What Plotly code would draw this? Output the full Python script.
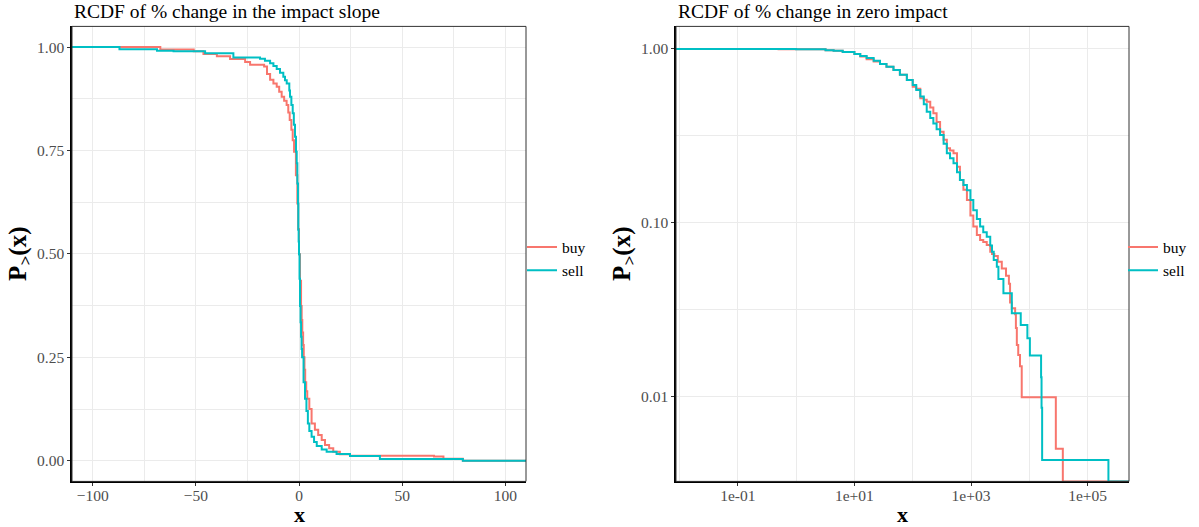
import plotly.graph_objects as go

W, H = 1199, 527
BUY = "#F8766D"
SELL = "#00BFC4"
FONT = "Liberation Serif"

# ---------------- data: left panel (% change in the impact slope) ----------------
slope_buy_x = [-150, -67.2, -51, -46.3, -39.8, -33.4, -26.1, -23.7, -16.9, -15.5, -14.0, -12.4, -10.8, -9.6, -8.4,
               -7.2, -6.0, -5.2, -4.5, -3.7, -3.05, -2.4, -1.5, -0.8, -0.4, 0.0, 0.5, 1.0, 1.3, 1.6, 2.0, 2.3,
               2.65, 3.0, 3.5, 4.0, 5.0, 6.1, 7.7, 9.3, 11.0, 12.6, 14.6, 16.6, 19.8, 24.7, 65.4, 70, 79.4, 150]
slope_buy_p = [1.0, 0.994, 0.990, 0.983, 0.978, 0.971, 0.964, 0.957, 0.953, 0.935, 0.921, 0.912, 0.904, 0.892, 0.880,
               0.870, 0.860, 0.842, 0.824, 0.800, 0.775, 0.747, 0.690, 0.622, 0.560, 0.499, 0.435, 0.374, 0.340, 0.310, 0.280, 0.250,
               0.220, 0.190, 0.168, 0.150, 0.125, 0.090, 0.075, 0.062, 0.050, 0.038, 0.030, 0.0218, 0.0155, 0.012, 0.0099, 0.005, 0.0, 0.0]

slope_sell_x = [-150, -87, -68.8, -60.8, -45.5, -31.8, -18.9, -16.5, -14.0, -12.4, -10.8, -9.2, -7.6, -6.8, -5.95, -4.7,
                -4.35, -3.7, -3.05, -2.5, -1.94, -1.45, -1.11, -0.8, -0.5, -0.34, -0.17, 0.0, 0.25, 0.5, 0.75, 1.0,
                1.25, 1.5, 2.2, 2.9, 3.6, 4.3, 5.0, 6.1, 7.3, 8.6, 11.0, 13.4, 18.2, 24.7, 39.2, 79.4, 150]
slope_sell_p = [1.0, 0.995, 0.991, 0.990, 0.985, 0.975, 0.972, 0.967, 0.961, 0.954, 0.947, 0.938, 0.928, 0.920, 0.912, 0.895,
                0.880, 0.860, 0.840, 0.812, 0.783, 0.747, 0.719, 0.670, 0.622, 0.558, 0.530, 0.499, 0.440, 0.374, 0.335, 0.300,
                0.270, 0.250, 0.190, 0.150, 0.120, 0.090, 0.072, 0.058, 0.045, 0.0355, 0.027, 0.0218, 0.016, 0.0114, 0.0043, 0.0, 0.0]

# ---------------- data: right panel (% change in zero impact) ----------------
zero_buy_x = [0.001, 0.018, 0.5, 1.0, 3.2, 4.4, 6.3, 10, 12.6, 16.2, 21.4, 27.5, 35.5, 46.8, 60.3,
              79.4, 100, 115, 135, 155, 174, 200, 226, 257, 295, 339, 385, 437, 501, 575, 646,
              741, 851, 977, 1096, 1259, 1432, 1622, 1862, 2138, 2291, 2512, 2884, 3373, 3981,
              4467, 4677, 5012, 5715, 5888, 6109, 6457, 6918, 7413, 28510, 37580, 1e7]
zero_buy_p = [1.0, 1.0, 0.998, 0.995, 0.985, 0.978, 0.960, 0.936, 0.905, 0.873, 0.848, 0.820, 0.790, 0.757, 0.710,
              0.663, 0.607, 0.590, 0.520, 0.510, 0.497, 0.460, 0.426, 0.380, 0.334, 0.300, 0.268, 0.260, 0.251, 0.210, 0.176,
              0.155, 0.135, 0.110, 0.095, 0.085, 0.0795, 0.0775, 0.0744, 0.068, 0.066, 0.0643, 0.0597, 0.0545, 0.0495,
              0.0446, 0.0347, 0.0322, 0.0297, 0.0248, 0.0198, 0.0173, 0.0149, 0.0099, 0.0050, 0.0, 0.0]

zero_sell_x = [0.001, 0.018, 1.0, 3.2, 4.4, 6.3, 10, 12.6, 16.2, 21.4, 27.5, 35.5, 46.8, 60.3, 79.4,
               100, 115, 135, 155, 174, 200, 226, 257, 295, 339, 385, 437, 501, 575, 646, 741,
               851, 977, 1096, 1259, 1432, 1622, 1862, 2138, 2291, 2455, 2773, 2951, 3597, 5012,
               7129, 9268, 10230, 15920, 16220, 16600, 227500, 1e7]
zero_sell_p = [1.0, 1.0, 0.996, 0.985, 0.978, 0.962, 0.936, 0.912, 0.887, 0.855, 0.820, 0.790, 0.757, 0.710, 0.663,
               0.621, 0.580, 0.532, 0.480, 0.435, 0.400, 0.373, 0.345, 0.320, 0.285, 0.251, 0.235, 0.220, 0.195, 0.176, 0.165,
               0.154, 0.135, 0.118, 0.105, 0.095, 0.088, 0.083, 0.074, 0.068, 0.061, 0.0558, 0.0474, 0.0392, 0.0301,
               0.0258, 0.0216, 0.0172, 0.0129, 0.0086, 0.0043, 0.0, 0.0]

# tick labels
slope_xticks = [-100, -50, 0, 50, 100]
slope_xlabels = ["\u2212100", "\u221250", "0", "50", "100"]
slope_yticks = [0, 0.25, 0.5, 0.75, 1.0]
slope_ylabels = ["0.00", "0.25", "0.50", "0.75", "1.00"]
zero_xticks = [0.1, 10, 1000, 100000]
zero_xlabels = ["1e-01", "1e+01", "1e+03", "1e+05"]
zero_yticks = [0.01, 0.1, 1.0]
zero_ylabels = ["0.01", "0.10", "1.00"]

# ---------------- layout geometry ----------------
X1 = [72 / W, 526 / W]
X2 = [676 / W, 1129 / W]
YD = [1 - 481.4 / H, 1 - 26.4 / H]
ZERO_YRANGE = [-2.489, 0.130]
LOG_FLOOR = 10 ** ZERO_YRANGE[0]  # where ggplot squishes -Inf (p = 0) on the log scale


def floor0(vals):
    return [v if v > 0 else LOG_FLOOR for v in vals]


fig = go.Figure()
fig.add_trace(go.Scatter(x=slope_buy_x, y=slope_buy_p, mode="lines", name="buy",
                         line=dict(color=BUY, width=2, shape="hv"), xaxis="x", yaxis="y", legend="legend"))
fig.add_trace(go.Scatter(x=slope_sell_x, y=slope_sell_p, mode="lines", name="sell",
                         line=dict(color=SELL, width=2, shape="hv"), xaxis="x", yaxis="y", legend="legend"))
fig.add_trace(go.Scatter(x=zero_buy_x, y=floor0(zero_buy_p), mode="lines", name="buy",
                         line=dict(color=BUY, width=2, shape="hv"), xaxis="x2", yaxis="y2", legend="legend2"))
fig.add_trace(go.Scatter(x=zero_sell_x, y=floor0(zero_sell_p), mode="lines", name="sell",
                         line=dict(color=SELL, width=2, shape="hv"), xaxis="x2", yaxis="y2", legend="legend2"))

tickfont = dict(family=FONT, size=15.5, color="#4D4D4D")
common = dict(showgrid=True, gridcolor="#EBEBEB", gridwidth=1.2, zeroline=False,
              ticks="outside", ticklen=3, tickcolor="#333333", tickwidth=1,
              showline=True, linecolor="black", linewidth=1.5, mirror=False,
              tickfont=tickfont, fixedrange=True)
minor_style = dict(showgrid=True, gridcolor="#EBEBEB", gridwidth=0.6, ticks="")
legfont = dict(family=FONT, size=15.5, color="black")

fig.update_layout(
    width=W, height=H,
    margin=dict(l=0, r=0, t=0, b=0),
    paper_bgcolor="white", plot_bgcolor="white",
    font=dict(family=FONT, color="black"),
    xaxis=dict(domain=X1, anchor="y", range=[-110, 110], tickmode="array",
               tickvals=slope_xticks, ticktext=slope_xlabels, ticklabelstandoff=-4,
               minor=dict(tickmode="array", tickvals=[-75, -25, 25, 75], **minor_style), **common),
    yaxis=dict(domain=YD, anchor="x", range=[-0.05, 1.05], tickmode="array",
               tickvals=slope_yticks, ticktext=slope_ylabels,
               minor=dict(tickmode="array", tickvals=[0.125, 0.375, 0.625, 0.875], **minor_style), **common),
    xaxis2=dict(domain=X2, anchor="y2", type="log", range=[-2.06, 5.71], tickmode="array",
                tickvals=zero_xticks, ticktext=zero_xlabels, ticklabelstandoff=-4,
                minor=dict(tickmode="array", tickvals=[0.01, 1, 100, 10000], **minor_style), **common),
    yaxis2=dict(domain=YD, anchor="x2", type="log", range=ZERO_YRANGE, tickmode="array",
                tickvals=zero_yticks, ticktext=zero_ylabels,
                minor=dict(tickmode="array", tickvals=[0.0316, 0.316], **minor_style), **common),
    legend=dict(x=522 / W, y=1 - 259 / H, xanchor="left", yanchor="middle",
                font=legfont, bgcolor="rgba(0,0,0,0)", tracegroupgap=0, itemwidth=30),
    legend2=dict(x=1123 / W, y=1 - 259 / H, xanchor="left", yanchor="middle",
                 font=legfont, bgcolor="rgba(0,0,0,0)", tracegroupgap=0, itemwidth=30),
    showlegend=True,
)

# panel borders (theme_bw)
for xr, yr in (("x domain", "y domain"), ("x2 domain", "y2 domain")):
    fig.add_shape(type="rect", xref=xr, yref=yr, x0=0, x1=1, y0=0, y1=1,
                  line=dict(color="#333333", width=1), fillcolor="rgba(0,0,0,0)", layer="above")

# titles
TITLE_FONT = dict(family=FONT, size=19.5, color="black")
fig.add_annotation(text="RCDF of % change in the impact slope", x=X1[0], y=1 - 24 / H,
                   xref="paper", yref="paper", xanchor="left", yanchor="bottom", showarrow=False,
                   font=TITLE_FONT)
fig.add_annotation(text="RCDF of % change in zero impact", x=X2[0], y=1 - 24 / H,
                   xref="paper", yref="paper", xanchor="left", yanchor="bottom", showarrow=False,
                   font=TITLE_FONT)

# axis titles
for xd, ylab_x in ((X1, 20), (X2, 624)):
    fig.add_annotation(text="x", x=(xd[0] + xd[1]) / 2, y=1 - 514 / H, xref="paper", yref="paper",
                       xanchor="center", yanchor="middle", showarrow=False,
                       font=dict(family=FONT, size=22, color="black", weight="bold"))
    fig.add_annotation(text="P<sub>&gt;</sub>(x)", x=ylab_x / W, y=(YD[0] + YD[1]) / 2,
                       xref="paper", yref="paper", xanchor="center", yanchor="middle",
                       textangle=-90, showarrow=False,
                       font=dict(family=FONT, size=25, color="black", weight="bold"))

fig.write_html("out.html", config={"displayModeBar": False},
               post_script="document.body.style.margin='0px';document.body.style.padding='0px';")
